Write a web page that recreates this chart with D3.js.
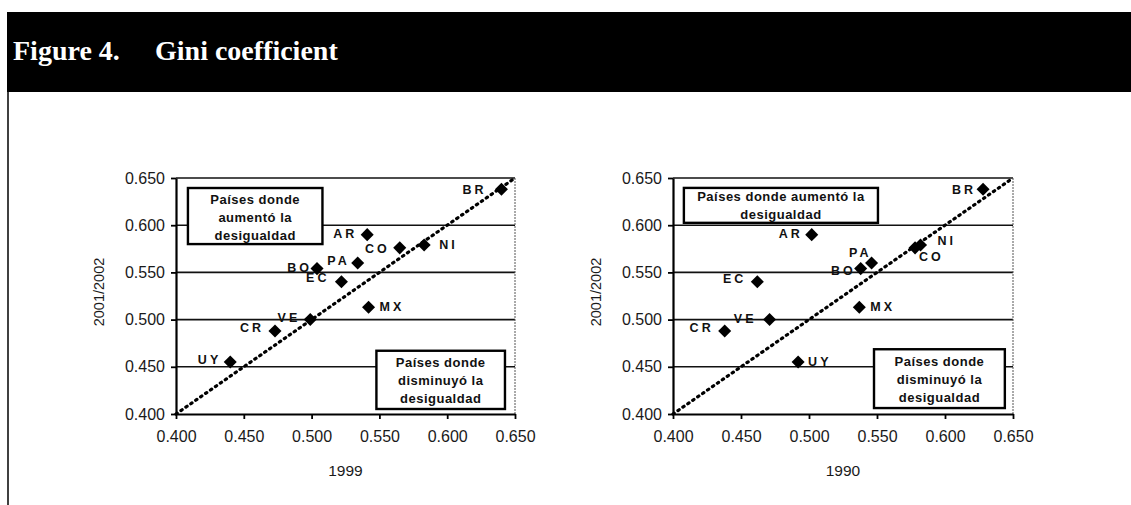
<!DOCTYPE html>
<html>
<head>
<meta charset="utf-8">
<script src="https://cdn.jsdelivr.net/npm/d3@7"></script>
<style>
body { margin: 0; background: #fff; }
svg { display: block; }
</style>
</head>
<body>
<svg width="1131" height="505"></svg>
<script>
// Gini coefficient, 2001/2002 against 1999 and against 1990
var countries = ["BR", "AR", "CO", "NI", "PA", "BO", "EC", "MX", "VE", "CR", "UY"];
var gini1999 = [0.640, 0.541, 0.565, 0.583, 0.534, 0.504, 0.522, 0.542, 0.499, 0.473, 0.440];
var gini1990 = [0.628, 0.502, 0.578, 0.582, 0.546, 0.538, 0.462, 0.537, 0.471, 0.438, 0.492];
var gini2002 = [0.638, 0.590, 0.576, 0.579, 0.560, 0.554, 0.540, 0.513, 0.500, 0.488, 0.455];
var ticks = [0.400, 0.450, 0.500, 0.550, 0.600, 0.650];
var title = ["Figure 4.", "Gini coefficient"];
var yTitle = "2001/2002";
var upText1 = ["Países donde", "aumentó la", "desigualdad"];
var upText2 = ["Países donde aumentó la", "desigualdad"];
var downText = ["Países donde", "disminuyó la", "desigualdad"];

var svg = d3.select("svg");
var W = 1131, H = 505;

// header band + left frame line
svg.append("rect").attr("x", 7).attr("y", 12).attr("width", W - 7).attr("height", 80).attr("fill", "#000");
svg.append("line").attr("x1", 8).attr("x2", 8).attr("y1", 92).attr("y2", H)
  .attr("stroke", "#000").attr("stroke-width", 1.5);
svg.append("text").attr("x", 13).attr("y", 60).text(title[0])
  .attr("fill", "#fff").style("font", "bold 28px 'Liberation Serif', serif");
svg.append("text").attr("x", 155).attr("y", 60).text(title[1])
  .attr("fill", "#fff").style("font", "bold 28px 'Liberation Serif', serif");

// label placement per chart: [anchor, dx, dy]
var labels1999 = {
  BR: ["end", -15, 0], AR: ["end", -10, -1], CO: ["end", -10, 1], NI: ["start", 15, 0],
  PA: ["end", -8, -2], BO: ["end", -5, -1], EC: ["end", -12, -4], MX: ["start", 11, -1],
  VE: ["end", -10, -2], CR: ["end", -11, -3], UY: ["end", -9, -2]
};
var labels1990 = {
  BR: ["end", -7, 0], AR: ["end", -9, -1], CO: ["start", 4, 9], NI: ["start", 17, -4],
  PA: ["end", 0, -10], BO: ["end", -5, 2], EC: ["end", -11, -3], MX: ["start", 11, -1],
  VE: ["end", -13, -1], CR: ["end", -11, -3], UY: ["start", 10, 0]
};

function panel(left, top, w, h, xs, xTitle, labelPos, boxes) {
  var g = svg.append("g").attr("transform", "translate(" + left + "," + top + ")");
  var x = d3.scaleLinear().domain([0.4, 0.65]).range([0, w]);
  var y = d3.scaleLinear().domain([0.4, 0.65]).range([h, 0]);

  // gridlines
  g.selectAll(".grid").data(ticks.slice(1)).enter().append("line")
    .attr("x1", 0).attr("x2", w).attr("y1", function(d) { return y(d); }).attr("y2", function(d) { return y(d); })
    .attr("stroke", "#111").attr("stroke-width", 1.6);
  g.append("line").attr("x1", w).attr("x2", w).attr("y1", 0).attr("y2", h)
    .attr("stroke", "#555").attr("stroke-width", 1).attr("stroke-dasharray", "2,1");

  // axes
  var ya = g.append("g").call(d3.axisLeft(y).tickValues(ticks).tickSize(5).tickSizeOuter(0).tickPadding(6)
    .tickFormat(d3.format(".3f")));
  var xa = g.append("g").attr("transform", "translate(0," + h + ")")
    .call(d3.axisBottom(x).tickValues(ticks).tickSize(5).tickSizeOuter(0).tickPadding(12)
    .tickFormat(d3.format(".3f")));
  [ya, xa].forEach(function(a) {
    a.select(".domain").attr("stroke", "#000").attr("stroke-width", 2.2);
    a.selectAll(".tick line").attr("stroke", "#000").attr("stroke-width", 1.8);
    a.selectAll(".tick text").attr("fill", "#1a1a1a")
      .style("font-family", "'Liberation Sans', Arial, sans-serif").style("font-size", "16px");
  });

  g.append("text").attr("x", w / 2).attr("y", h + 62).attr("text-anchor", "middle").text(xTitle)
    .attr("fill", "#1a1a1a").style("font", "15.5px 'Liberation Sans', Arial, sans-serif");
  g.append("text").attr("transform", "translate(-77," + (h / 2 - 4) + ") rotate(-90)")
    .attr("text-anchor", "middle").attr("dy", "0.35em").text(yTitle)
    .attr("fill", "#1a1a1a").style("font", "14.5px 'Liberation Sans', Arial, sans-serif");

  // 45 degree line
  g.append("line").attr("x1", x(0.4)).attr("y1", y(0.4)).attr("x2", x(0.65)).attr("y2", y(0.65))
    .attr("stroke", "#000").attr("stroke-width", 3.2).attr("stroke-linecap", "round")
    .attr("stroke-dasharray", "1.5,4.5");

  // text boxes
  boxes.forEach(function(b) {
    var bx = x(b.x0), by = y(b.y0), bw = x(b.x1) - x(b.x0), bh = y(b.y1) - y(b.y0);
    g.append("rect").attr("x", bx).attr("y", by).attr("width", bw).attr("height", bh)
      .attr("fill", "#fff").attr("stroke", "#000").attr("stroke-width", 2.4);
    g.append("g").selectAll("text").data(b.lines).enter().append("text")
      .attr("x", bx + bw / 2).attr("y", function(d, i) { return by + b.first + i * 18; })
      .attr("text-anchor", "middle").attr("dy", "0.35em").text(function(d) { return d; })
      .attr("fill", "#111").style("letter-spacing", "0.5px")
      .style("font", "bold 13px 'Liberation Sans', Arial, sans-serif");
  });

  // points
  var pts = countries.map(function(c, i) { return { c: c, x: xs[i], y: gini2002[i] }; });
  g.selectAll(".pt").data(pts).enter().append("path")
    .attr("d", d3.symbol().type(d3.symbolSquare).size(85))
    .attr("transform", function(d) { return "translate(" + x(d.x) + "," + y(d.y) + ") rotate(45)"; })
    .attr("fill", "#000");
  g.selectAll(".lb").data(pts).enter().append("text")
    .attr("x", function(d) { return x(d.x) + labelPos[d.c][1]; })
    .attr("y", function(d) { return y(d.y) + labelPos[d.c][2]; })
    .attr("dy", "0.35em").attr("text-anchor", function(d) { return labelPos[d.c][0]; })
    .text(function(d) { return d.c; })
    .attr("fill", "#111").style("letter-spacing", "3px")
    .style("font", "bold 12.5px 'Liberation Sans', Arial, sans-serif");
}

panel(176, 178, 339, 236, gini1999, "1999", labels1999, [
  { x0: 0.4088, x1: 0.508, y0: 0.6394, y1: 0.580, lines: upText1, first: 11 },
  { x0: 0.5478, x1: 0.6426, y0: 0.467, y1: 0.4053, lines: downText, first: 12 }
]);
panel(673, 178, 340, 236, gini1990, "1990", labels1990, [
  { x0: 0.408, x1: 0.5507, y0: 0.6395, y1: 0.6025, lines: upText2, first: 9 },
  { x0: 0.5478, x1: 0.644, y0: 0.4686, y1: 0.4063, lines: downText, first: 12 }
]);
</script>
</body>
</html>
